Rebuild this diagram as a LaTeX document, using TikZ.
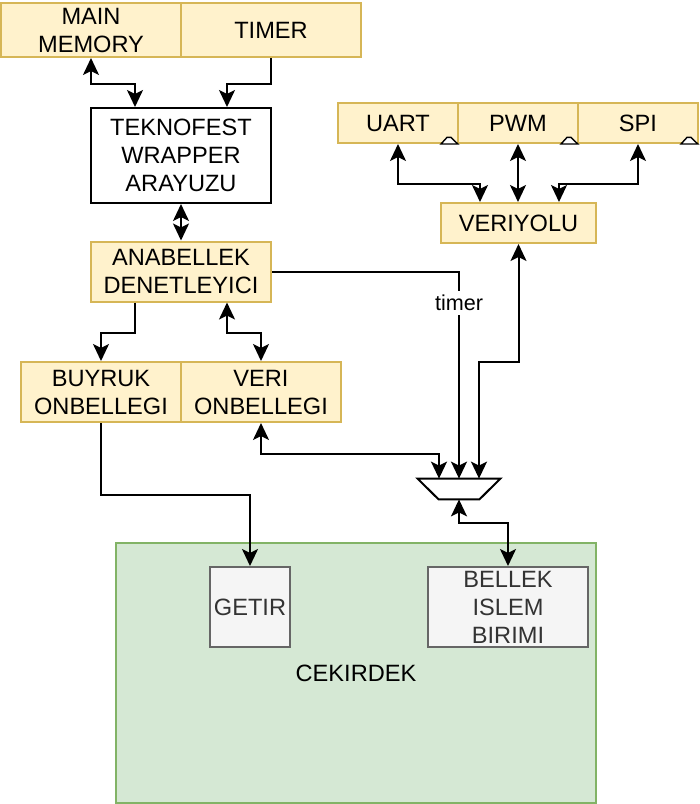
\documentclass[tikz,border=0pt]{standalone}
\usepackage{fontspec}
\setmainfont{Liberation Sans}
\usetikzlibrary{arrows.meta}

\definecolor{ylwfill}{HTML}{FFF2CC}
\definecolor{ylwline}{HTML}{D6B656}
\definecolor{grnfill}{HTML}{D5E8D4}
\definecolor{grnline}{HTML}{82B366}
\definecolor{gryfill}{HTML}{F5F5F5}
\definecolor{gryline}{HTML}{666666}
\definecolor{grytext}{HTML}{333333}

\begin{document}
\begin{tikzpicture}[x=0.5pt, y=-0.5pt,
		font=\fontsize{11.8}{14}\selectfont,
		>={Stealth[length=8.5pt, width=8pt, inset=2pt]},
		ybox/.style={draw=ylwline, fill=ylwfill, line width=1pt, align=center, inner sep=0pt},
		gbox/.style={draw=gryline, fill=gryfill, text=grytext, line width=1pt, align=center, inner sep=0pt},
		sgl/.style={->, line width=1pt},
		dbl/.style={<->, line width=1pt}]
		\useasboundingbox (0,0) rectangle (700,804);

		\node[ybox, minimum width=90pt, minimum height=27pt] (mem) at (91,30) {MAIN\\MEMORY};
		\node[ybox, minimum width=90pt, minimum height=27pt] (timer) at (271,30) {TIMER};
		\node[draw, fill=white, line width=1pt, align=center, inner sep=0pt, minimum width=90pt, minimum height=47.5pt] (wrap) at (181,155.5) {TEKNOFEST\\WRAPPER\\ARAYUZU};
		\node[ybox, minimum width=90pt, minimum height=30pt] (anab) at (181,271.5) {ANABELLEK\\DENETLEYICI};
		\node[ybox, minimum width=80pt, minimum height=30pt] (buy) at (101,392) {BUYRUK\\ONBELLEGI};
		\node[ybox, minimum width=80pt, minimum height=30pt] (veri) at (261,392) {VERI\\ONBELLEGI};

		\node[ybox, minimum width=60pt, minimum height=20pt] (uart) at (398,123) {UART};
		\node[ybox, minimum width=60pt, minimum height=20pt] (pwm) at (518,123) {PWM};
		\node[ybox, minimum width=60pt, minimum height=20pt] (spi) at (638,123) {SPI};
		\foreach \p in {uart,pwm,spi}
			\draw[line width=0.7pt, fill=white] ([xshift=-9pt]\p.south east) -- ++(3pt,3.3pt) -- ++(2pt,0pt) -- ([xshift=-0.6pt]\p.south east) -- cycle;
		\node[ybox, minimum width=77.5pt, minimum height=20pt] (bus) at (518.5,223) {VERIYOLU};

		\node[inner sep=0pt, minimum width=41pt, minimum height=10pt] (mux) at (459,489) {};
		\draw[line width=1pt] (mux.north west) -- (mux.north east) -- ([xshift=-10.5pt]mux.south east) -- ([xshift=10.5pt]mux.south west) -- cycle;

		\node[draw=grnline, fill=grnfill, line width=1pt, minimum width=240pt, minimum height=130pt] (core) at (356,673) {CEKIRDEK};
		\node[gbox, minimum width=40pt, minimum height=40pt] (getir) at (250,607) {GETIR};
		\node[gbox, minimum width=80pt, minimum height=40pt] (alu) at (508,607) {BELLEK\\ISLEM\\BIRIMI};

		\draw[dbl] (mem.south) -- ++(0,26) -| ([xshift=22.5pt]wrap.north west);
		\draw[sgl] (timer.south) -- ++(0,26) -| ([xshift=-22.5pt]wrap.north east);
		\draw[dbl] (wrap.south) -- (anab.north);
		\draw[sgl] ([xshift=22.5pt]anab.south west) -- ++(0,30) -| (buy.north);
		\draw[dbl] ([xshift=-22.5pt]anab.south east) -- ++(0,30) -| (veri.north);
		\draw[sgl] (buy.south) -- ++(0,72) -| (getir.north);

		\draw[dbl] (uart.south) -- ++(0,40) -| ([xshift=20pt]bus.north west);
		\draw[dbl] (pwm.south) -- (pwm.south |- bus.north);
		\draw[dbl] (spi.south) -- ++(0,40) -| ([xshift=-19pt]bus.north east);

		\draw[dbl] (veri.south) -- ++(0,31) -| ([xshift=-10pt]mux.north);
		\draw[sgl] (anab.east) -| node[pos=0.575, fill=white, inner sep=2pt, font=\fontsize{10.8}{13}\selectfont] {timer} (mux.north);
		\draw[dbl] (bus.south) -- ++(0,118) -| ([xshift=10pt]mux.north);
		\draw[dbl] (mux.south) -- ++(0,24) -| (alu.north);
	\end{tikzpicture}
\end{document}
